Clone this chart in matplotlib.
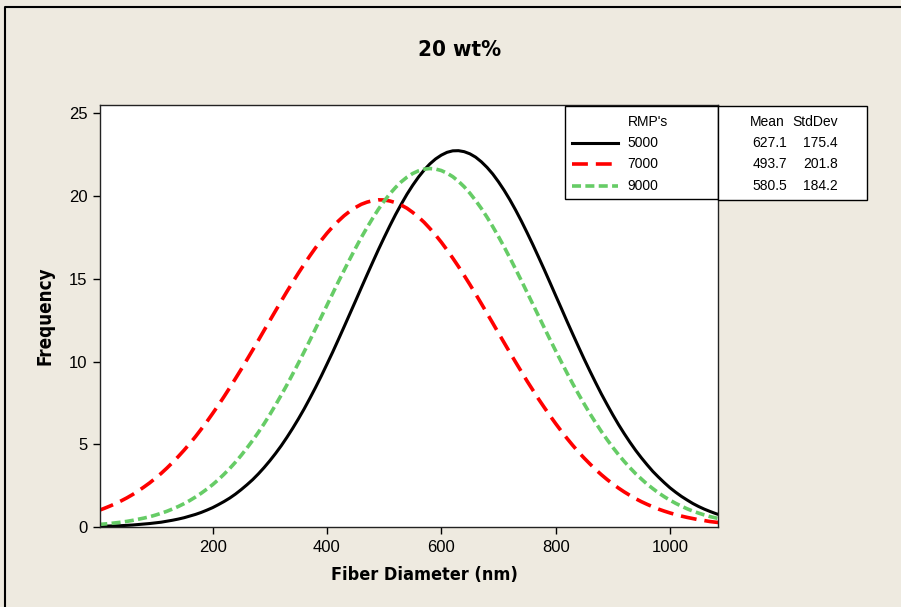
import matplotlib.pyplot as plt
from matplotlib.lines import Line2D
from matplotlib.patches import Rectangle

# fiber diameter (nm) and fitted frequency for each RMP setting
diameter = list(range(0, 1091, 10))
freq_5000 = [0.04, 0.05, 0.06, 0.07, 0.08, 0.10, 0.12, 0.15, 0.18, 0.21, 0.25, 0.29, 0.35, 0.41,
             0.48, 0.56, 0.66, 0.76, 0.88, 1.02, 1.17, 1.35, 1.54, 1.75, 1.99, 2.26, 2.55, 2.86,
             3.21, 3.59, 4.00, 4.44, 4.91, 5.42, 5.96, 6.53, 7.13, 7.77, 8.43, 9.12, 9.84, 10.57,
             11.33, 12.10, 12.88, 13.66, 14.45, 15.23, 16.00, 16.76, 17.49, 18.20, 18.88, 19.51,
             20.11, 20.65, 21.14, 21.57, 21.94, 22.24, 22.47, 22.64, 22.73, 22.74, 22.68, 22.55,
             22.35, 22.07, 21.73, 21.33, 20.86, 20.34, 19.77, 19.15, 18.49, 17.79, 17.07, 16.32,
             15.56, 14.78, 13.99, 13.21, 12.42, 11.65, 10.89, 10.14, 9.42, 8.72, 8.04, 7.40,
             6.78, 6.19, 5.64, 5.12, 4.63, 4.18, 3.76, 3.36, 3.01, 2.68, 2.37, 2.10, 1.85, 1.63,
             1.42, 1.24, 1.08, 0.94, 0.81, 0.70]
freq_7000 = [0.99, 1.12, 1.26, 1.41, 1.58, 1.76, 1.96, 2.18, 2.42, 2.67, 2.95, 3.24, 3.56, 3.90,
             4.26, 4.64, 5.04, 5.46, 5.91, 6.37, 6.86, 7.36, 7.88, 8.42, 8.97, 9.53, 10.11, 10.69,
             11.28, 11.88, 12.47, 13.06, 13.65, 14.23, 14.79, 15.34, 15.87, 16.38, 16.87, 17.32,
             17.75, 18.14, 18.49, 18.81, 19.08, 19.31, 19.50, 19.63, 19.72, 19.77, 19.76, 19.70,
             19.60, 19.45, 19.26, 19.01, 18.73, 18.41, 18.04, 17.64, 17.21, 16.74, 16.25, 15.74,
             15.20, 14.65, 14.08, 13.50, 12.91, 12.32, 11.72, 11.13, 10.54, 9.96, 9.39, 8.82,
             8.28, 7.74, 7.23, 6.73, 6.25, 5.79, 5.35, 4.93, 4.53, 4.16, 3.81, 3.47, 3.16, 2.87,
             2.60, 2.35, 2.12, 1.91, 1.71, 1.53, 1.37, 1.22, 1.08, 0.96, 0.85, 0.75, 0.66, 0.58,
             0.51, 0.44, 0.39, 0.33, 0.29, 0.25]
freq_9000 = [0.15, 0.18, 0.21, 0.25, 0.29, 0.34, 0.40, 0.47, 0.54, 0.62, 0.72, 0.83, 0.95, 1.09,
             1.24, 1.41, 1.60, 1.81, 2.04, 2.29, 2.56, 2.86, 3.19, 3.54, 3.92, 4.33, 4.77, 5.23,
             5.72, 6.24, 6.79, 7.37, 7.97, 8.59, 9.24, 9.90, 10.58, 11.27, 11.98, 12.69, 13.40,
             14.11, 14.82, 15.51, 16.19, 16.85, 17.49, 18.09, 18.66, 19.20, 19.69, 20.13, 20.52,
             20.86, 21.14, 21.36, 21.52, 21.62, 21.66, 21.63, 21.54, 21.38, 21.17, 20.89, 20.56,
             20.17, 19.73, 19.25, 18.72, 18.15, 17.55, 16.92, 16.26, 15.58, 14.89, 14.18, 13.47,
             12.76, 12.05, 11.34, 10.65, 9.97, 9.30, 8.65, 8.03, 7.43, 6.85, 6.30, 5.77, 5.28,
             4.81, 4.37, 3.96, 3.58, 3.22, 2.90, 2.59, 2.32, 2.06, 1.83, 1.62, 1.43, 1.26, 1.10,
             0.96, 0.84, 0.73, 0.63, 0.55, 0.47]

rmp_labels = ["5000", "7000", "9000"]
means = ["627.1", "493.7", "580.5"]
stdevs = ["175.4", "201.8", "184.2"]

W, H = 901, 607
bg = "#EEEAE0"
green = "#66CC66"
plain = ["Liberation Sans", "DejaVu Sans"]
bold_kw = dict(fontweight="bold", family=["DejaVu Sans"], fontstretch="condensed")

fig = plt.figure(figsize=(W / 100, H / 100), dpi=100, facecolor=bg)

def fx(px):
    return px / W

def fy(py):
    return 1 - py / H

ax = fig.add_axes([fx(100), fy(527), fx(718) - fx(100), fy(105) - fy(527)])
ax.set_facecolor("white")

lw = 2.6
ax.plot(diameter, freq_5000, color="black", lw=2.2, solid_joinstyle="round")
ax.plot(diameter, freq_7000, color="#FF0000", lw=lw, dashes=(4.4, 2.2),
        dash_capstyle="butt")
ax.plot(diameter, freq_9000, color=green, lw=lw, dashes=(2.5, 1.2),
        dash_capstyle="butt")

ax.set_xlim(3, 1084)
ax.set_ylim(0, 25.5)
ax.set_xticks([200, 400, 600, 800, 1000])
ax.set_yticks([0, 5, 10, 15, 20, 25])
ax.tick_params(direction="out", length=5, width=1, labelsize=12, pad=4)
for lab in ax.get_xticklabels() + ax.get_yticklabels():
    lab.set_family(plain)
for sp in ax.spines.values():
    sp.set_linewidth(1.0)
    sp.set_color("#222222")

fig.text(fx(424), fy(575), "Fiber Diameter (nm)", ha="center", va="center",
         fontsize=13, **bold_kw)
fig.text(fx(45), fy(316), "Frequency", ha="center", va="center", rotation=90,
         fontsize=13.5, **bold_kw)

fig.text(fx(460), fy(50), "20 wt%", ha="center", va="center", fontsize=16, **bold_kw)

# legend table
fig.patches.append(Rectangle((fx(565), fy(199)), fx(718) - fx(565), fy(106) - fy(199),
                             transform=fig.transFigure, facecolor="white",
                             edgecolor="black", lw=1.0, zorder=5))
fig.patches.append(Rectangle((fx(718), fy(200)), fx(867) - fx(718), fy(106) - fy(200),
                             transform=fig.transFigure, facecolor="white",
                             edgecolor="black", lw=1.0, zorder=5))

tsize = 10
fig.text(fx(648), fy(122), "RMP's", ha="center", va="center", fontsize=tsize,
         family=plain, zorder=6)
fig.text(fx(785), fy(122), "Mean", ha="right", va="center", fontsize=tsize,
         family=plain, zorder=6)
fig.text(fx(838), fy(122), "StdDev", ha="right", va="center", fontsize=tsize,
         family=plain, zorder=6)

styles = [dict(color="black", lw=2.2),
          dict(color="#FF0000", lw=lw, dashes=(4.4, 2.2), dash_capstyle="butt"),
          dict(color=green, lw=lw, dashes=(2.5, 1.2), dash_capstyle="butt")]
rows_y = [143, 164, 186]
for i, ry in enumerate(rows_y):
    fig.lines.append(Line2D([fx(572), fx(618)], [fy(ry), fy(ry)],
                            transform=fig.transFigure, zorder=6, **styles[i]))
    fig.text(fx(627), fy(ry), rmp_labels[i], ha="left", va="center", fontsize=tsize,
             family=plain, zorder=6)
    fig.text(fx(787), fy(ry), means[i], ha="right", va="center", fontsize=tsize,
             family=plain, zorder=6)
    fig.text(fx(838), fy(ry), stdevs[i], ha="right", va="center", fontsize=tsize,
             family=plain, zorder=6)

# outer frame (left and top edges visible)
fig.lines.append(Line2D([fx(5), fx(5), fx(W)], [0, fy(7), fy(7)],
                        transform=fig.transFigure, color="black", lw=1.5))

fig.savefig("out.png", dpi=100, facecolor=bg)
